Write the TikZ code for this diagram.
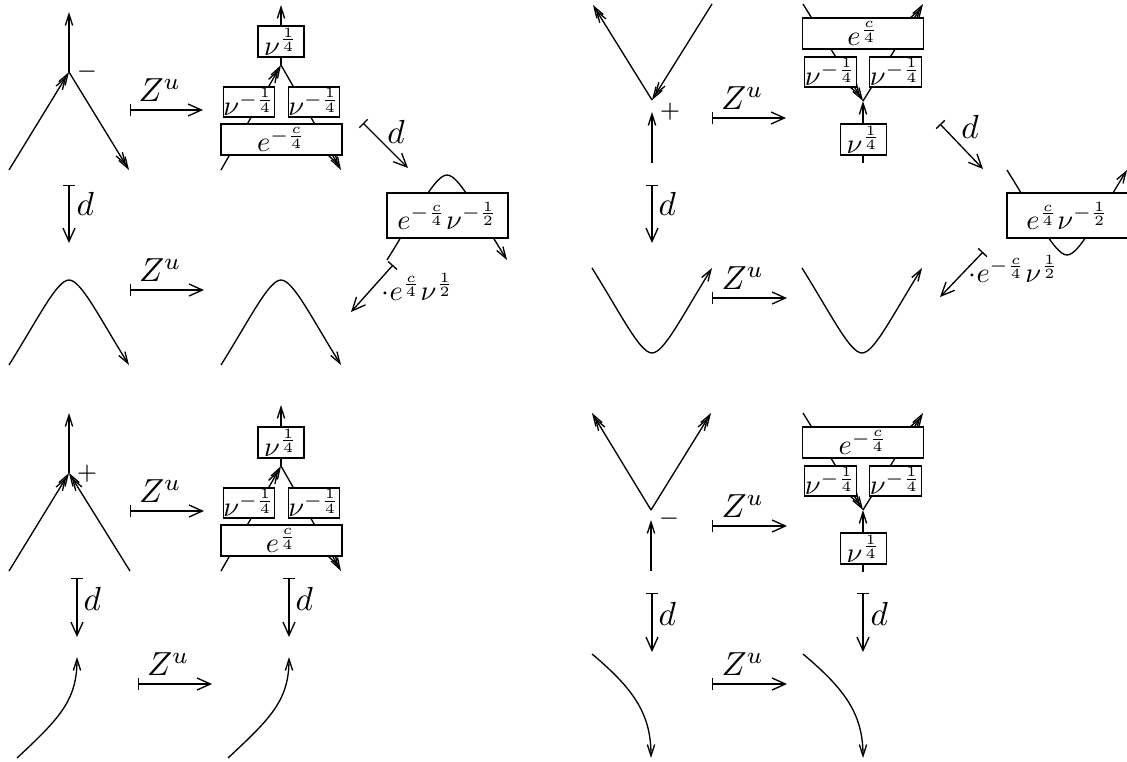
\documentclass[tikz,border=0pt]{standalone}
\usepackage{graphicx}
\usetikzlibrary{arrows.meta}
\newcommand{\bx}[1]{\scalebox{0.85}{$#1$}}
\begin{document}
\begin{tikzpicture}[x=0.3pt,y=-0.3pt,line width=0.4pt,
  arr/.style={-{Straight Barb[length=3.4pt,width=2.2pt]}},
  leg/.style={-{Straight Barb[length=3.4pt,width=2.2pt,sep=-2.7pt]Straight Barb[length=3.4pt,width=2.2pt]}},
  mapsto/.style={{Bar[width=3.6pt]}-{Straight Barb[length=4pt,width=3.6pt]}},
  box/.style={draw,fill=white,inner sep=0pt},
  nub/.style={box,minimum width=13.8pt,minimum height=9.3pt},
  smb/.style={box,minimum width=15pt,minimum height=9pt},
  bigb/.style={box,minimum width=36.3pt,minimum height=9.3pt},
  tallb/.style={box,minimum width=36.3pt,minimum height=13.5pt},
  lbl/.style={inner sep=0pt},
  zlab/.style={above=2.4pt,inner sep=0pt,xshift=-2pt}]
\useasboundingbox (0,0) rectangle (1127,761);

% ================= top-left =================
\coordinate (A1v) at (69,72); \coordinate (A1t) at (69,12);
\coordinate (A1l) at (9,170); \coordinate (A1r) at (129,170);
\draw[arr] (A1v) -- (A1t);
\draw[leg] (A1l) -- (A1v);
\draw[leg] (A1v) -- (A1r);
\node[lbl] (A1s) at (87,72) {$\scriptstyle -$};

\coordinate (mA1s) at (130,110); \coordinate (mA1e) at (203,110);
\draw[mapsto] (mA1s) -- node[zlab] (zA1) {$Z^u$} (mA1e);

\coordinate (A2v) at (281,65); \coordinate (A2t) at (281,5);
\coordinate (A2l) at (221,170); \coordinate (A2r) at (341,170);
\draw[arr] (A2v) -- (A2t);
\draw[leg] (A2l) -- (A2v);
\draw[leg] (A2v) -- (A2r);
\node[nub] (A2n) at (281,41.5) {\bx{\nu^{\frac{1}{4}}}};
\node[smb] (A2a) at (249,102) {\bx{\nu^{-\frac{1}{4}}}};
\node[smb] (A2b) at (314,102) {\bx{\nu^{-\frac{1}{4}}}};
\node[bigb] (A2e) at (281.5,139.5) {\bx{e^{-\frac{c}{4}}}};

\coordinate (dA1s) at (69,185); \coordinate (dA1e) at (69,243);
\draw[mapsto] (dA1s) -- (dA1e);
\node[lbl,anchor=base west] (dA1l) at (76,215) {$d$};

\draw[arr] (9,365) .. controls (39,317) and (57,280) .. (69,280) .. controls (81,280) and (99,317) .. (129,365);
\coordinate (mA2s) at (130,290); \coordinate (mA2e) at (204,290);
\draw[mapsto] (mA2s) -- node[zlab] (zA2) {$Z^u$} (mA2e);
\draw[arr] (221,365) .. controls (251,317) and (269,280) .. (281,280) .. controls (293,280) and (311,317) .. (341,365);

\coordinate (dA2s) at (363,123); \coordinate (dA2e) at (408,168);
\draw[mapsto] (dA2s) -- (dA2e);
\node[lbl] (dA2l) at (396,132) {$d$};

\draw[arr] (387,260) .. controls (417,212) and (435,175) .. (447,175) .. controls (459,175) and (477,212) .. (507,260);
\node[tallb] (A3b) at (447.5,215.5) {\bx{e^{-\frac{c}{4}}\nu^{-\frac{1}{2}}}};

\coordinate (dA3s) at (393,265); \coordinate (dA3e) at (351,312);
\draw[mapsto] (dA3s) -- (dA3e);
\node[lbl,anchor=base west] (dA3l) at (381,300) {\bx{\cdot e^{\frac{c}{4}}\nu^{\frac{1}{2}}}};

% ================= bottom-left =================
\coordinate (C1v) at (69,473); \coordinate (C1t) at (69,413);
\coordinate (C1l) at (9,571); \coordinate (C1r) at (130,571);
\draw[arr] (C1v) -- (C1t);
\draw[leg] (C1l) -- (C1v);
\draw[leg] (C1r) -- (C1v);
\node[lbl] (C1s) at (87,474) {$\scriptstyle +$};

\coordinate (mC1s) at (130,511); \coordinate (mC1e) at (204,511);
\draw[mapsto] (mC1s) -- node[zlab] (zC1) {$Z^u$} (mC1e);

\coordinate (C2v) at (281,466); \coordinate (C2t) at (281,405);
\coordinate (C2l) at (221,571); \coordinate (C2r) at (341,571);
\draw[arr] (C2v) -- (C2t);
\draw[leg] (C2l) -- (C2v);
\draw[leg] (C2v) -- (C2r);
\node[nub] (C2n) at (281,442.5) {\bx{\nu^{\frac{1}{4}}}};
\node[smb] (C2a) at (249,503) {\bx{\nu^{-\frac{1}{4}}}};
\node[smb] (C2b) at (314,503) {\bx{\nu^{-\frac{1}{4}}}};
\node[bigb] (C2e) at (281.5,540.5) {\bx{e^{\frac{c}{4}}}};

\coordinate (dC1s) at (77,578); \coordinate (dC1e) at (77,637);
\draw[mapsto] (dC1s) -- (dC1e);
\node[lbl,anchor=base west] (dC1l) at (83,610) {$d$};
\coordinate (dC2s) at (289,578); \coordinate (dC2e) at (289,637);
\draw[mapsto] (dC2s) -- (dC2e);
\node[lbl,anchor=base west] (dC2l) at (295,610) {$d$};

\draw[arr] (17,758) .. controls (60,718) and (77,700) .. (77,657);
\coordinate (mC2s) at (138,684); \coordinate (mC2e) at (212,684);
\draw[mapsto] (mC2s) -- node[zlab] (zC2) {$Z^u$} (mC2e);
\draw[arr] (228,758) .. controls (271,718) and (289,700) .. (289,657);

% ================= top-right =================
\coordinate (B1v) at (652,100); \coordinate (B1l) at (593,5);
\coordinate (B1r) at (712,4); \coordinate (B1b) at (652,163);
\coordinate (B1t) at (652,112);
\draw[leg] (B1v) -- (B1l);
\draw[leg] (B1r) -- (B1v);
\draw[arr] (B1b) -- (B1t);
\node[lbl] (B1s) at (670,112) {$\scriptstyle +$};

\coordinate (mB1s) at (712,118); \coordinate (mB1e) at (786,118);
\draw[mapsto] (mB1s) -- node[zlab] (zB1) {$Z^u$} (mB1e);

\coordinate (B2v) at (863,101); \coordinate (B2l) at (803,4);
\coordinate (B2r) at (923,4); \coordinate (B2b) at (863,163);
\draw[arr] (B2b) -- (B2v);
\draw[leg] (B2l) -- (B2v);
\draw[leg] (B2v) -- (B2r);
\node[bigb] (B2e) at (863,33.5) {\bx{e^{\frac{c}{4}}}};
\node[smb] (B2a) at (830.5,72) {\bx{\nu^{-\frac{1}{4}}}};
\node[smb] (B2c) at (895.5,72) {\bx{\nu^{-\frac{1}{4}}}};
\node[nub] (B2n) at (863.5,139.5) {\bx{\nu^{\frac{1}{4}}}};

\coordinate (dB1s) at (652,185); \coordinate (dB1e) at (652,243);
\draw[mapsto] (dB1s) -- (dB1e);
\node[lbl,anchor=base west] (dB1l) at (658,215) {$d$};

\draw[arr] (592,268) .. controls (622,316) and (640,353) .. (652,353) .. controls (664,353) and (682,316) .. (712,268);
\coordinate (mB2s) at (712,298); \coordinate (mB2e) at (787,298);
\draw[mapsto] (mB2s) -- node[zlab] (zB2) {$Z^u$} (mB2e);
\draw[arr] (802,268) .. controls (832,316) and (850,353) .. (862,353) .. controls (874,353) and (892,316) .. (922,268);

\coordinate (dB2s) at (940,124); \coordinate (dB2e) at (983,169);
\draw[mapsto] (dB2s) -- (dB2e);
\node[lbl] (dB2l) at (970,127) {$d$};

\draw[arr] (1007,170) .. controls (1037,218) and (1055,255) .. (1067,255) .. controls (1079,255) and (1097,218) .. (1127,170);
\node[tallb] (B3b) at (1067.5,215.5) {\bx{e^{\frac{c}{4}}\nu^{-\frac{1}{2}}}};

\coordinate (dB3s) at (983,252); \coordinate (dB3e) at (940,297);
\draw[mapsto] (dB3s) -- (dB3e);
\node[lbl,anchor=base west] (dB3l) at (968,282) {\bx{\cdot e^{-\frac{c}{4}}\nu^{\frac{1}{2}}}};

% ================= bottom-right =================
\coordinate (D1v) at (651,510); \coordinate (D1l) at (592,413);
\coordinate (D1r) at (711,413); \coordinate (D1b) at (651,571);
\coordinate (D1t) at (651,520);
\draw[leg] (D1v) -- (D1l);
\draw[leg] (D1v) -- (D1r);
\draw[arr] (D1b) -- (D1t);
\node[lbl] (D1s) at (669,519) {$\scriptstyle -$};

\coordinate (mD1s) at (712,526); \coordinate (mD1e) at (787,526);
\draw[mapsto] (mD1s) -- node[zlab] (zD1) {$Z^u$} (mD1e);

\coordinate (D2v) at (863,510); \coordinate (D2l) at (803,413);
\coordinate (D2r) at (923,413); \coordinate (D2b) at (863,572);
\draw[arr] (D2b) -- (D2v);
\draw[leg] (D2l) -- (D2v);
\draw[leg] (D2v) -- (D2r);
\node[bigb] (D2e) at (863,442.5) {\bx{e^{-\frac{c}{4}}}};
\node[smb] (D2a) at (830.5,481) {\bx{\nu^{-\frac{1}{4}}}};
\node[smb] (D2c) at (895.5,481) {\bx{\nu^{-\frac{1}{4}}}};
\node[nub] (D2n) at (863.5,548.5) {\bx{\nu^{\frac{1}{4}}}};

\coordinate (dD1s) at (652,593); \coordinate (dD1e) at (652,652);
\draw[mapsto] (dD1s) -- (dD1e);
\node[lbl,anchor=base west] (dD1l) at (658,625) {$d$};
\coordinate (dD2s) at (863,593); \coordinate (dD2e) at (863,652);
\draw[mapsto] (dD2s) -- (dD2e);
\node[lbl,anchor=base west] (dD2l) at (870,625) {$d$};

\draw[arr] (592,654) .. controls (635,690) and (651,715) .. (651,758);
\coordinate (mD2s) at (712,684); \coordinate (mD2e) at (787,684);
\draw[mapsto] (mD2s) -- node[zlab] (zD2) {$Z^u$} (mD2e);
\draw[arr] (803,654) .. controls (846,690) and (863,715) .. (863,758);
\end{tikzpicture}
\end{document}
